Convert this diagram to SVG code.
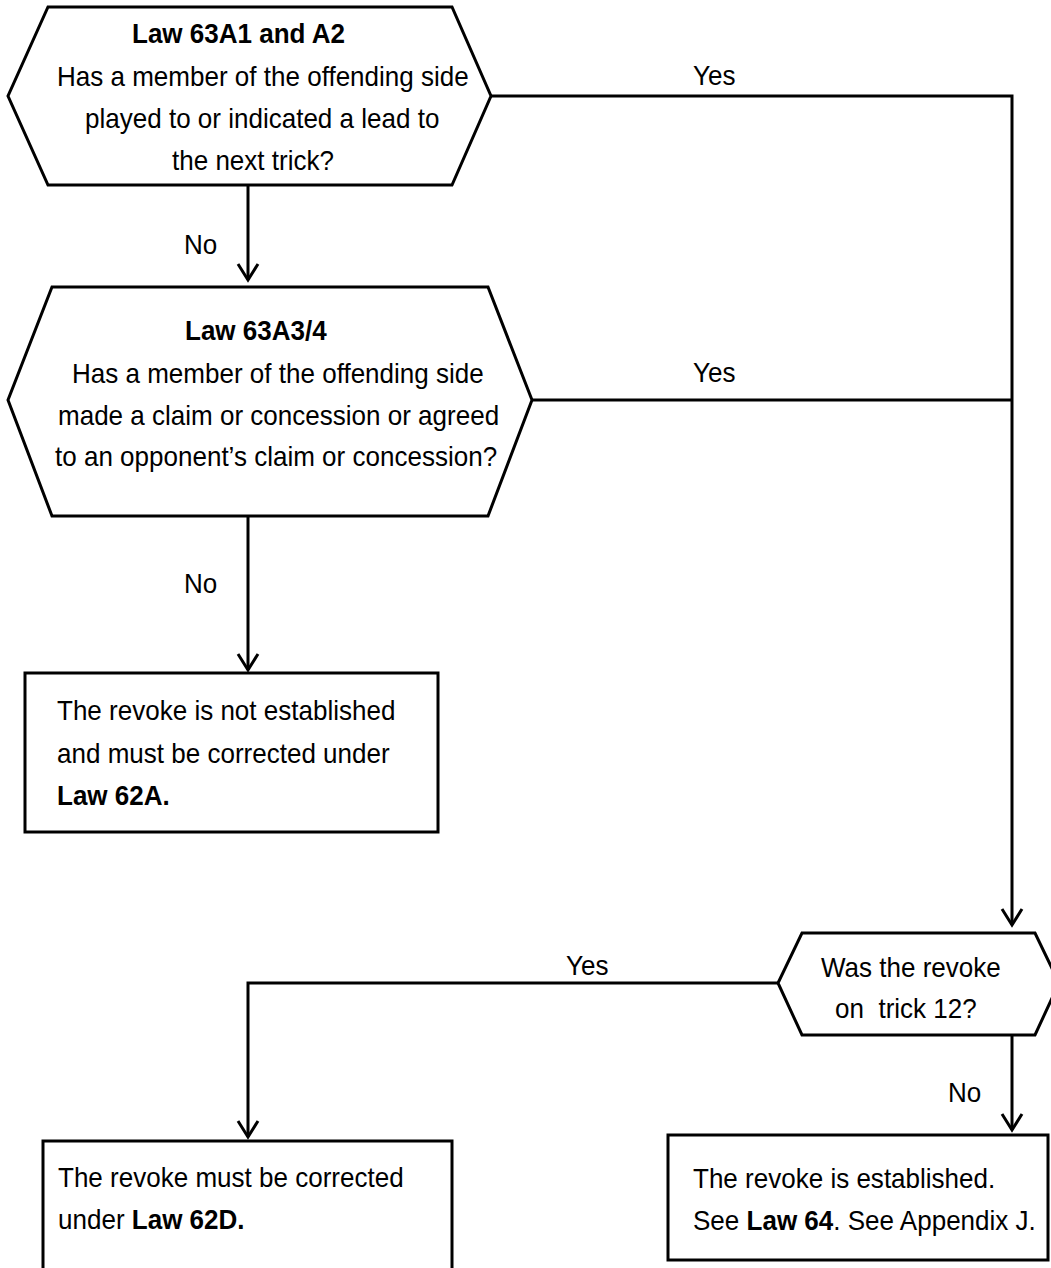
<svg xmlns="http://www.w3.org/2000/svg" width="1051" height="1268" viewBox="0 0 1051 1268">
<style>
.shape{fill:#fff;stroke:#000;stroke-width:3;stroke-linejoin:miter}
.conn{fill:none;stroke:#000;stroke-width:3}
text{font-family:"Liberation Sans",Arial,sans-serif;font-size:28px;fill:#000}
.b{font-weight:bold}
</style>
<defs>
<marker id="arr" markerUnits="userSpaceOnUse" viewBox="-20 -14 24 28" refX="0" refY="0" markerWidth="24" markerHeight="28" orient="auto" overflow="visible">
<path d="M-16,-10 L0,0 L-16,10" fill="none" stroke="#000" stroke-width="3" stroke-linejoin="miter"/>
</marker>
</defs>
<rect width="1051" height="1268" fill="#fff"/>
<g id="connectors">
<path class="conn" d="M248,185 V280" marker-end="url(#arr)"/>
<path class="conn" d="M491,96 H1012 V925" marker-end="url(#arr)"/>
<path class="conn" d="M532,400 H1012"/>
<path class="conn" d="M248,516 V670" marker-end="url(#arr)"/>
<path class="conn" d="M778,983 H248 V1137" marker-end="url(#arr)"/>
<path class="conn" d="M1012,1035 V1130" marker-end="url(#arr)"/>
<text transform="translate(184,254) scale(0.93,1)">No</text>
<text transform="translate(693,85) scale(0.93,1)">Yes</text>
<text transform="translate(693,382) scale(0.93,1)">Yes</text>
<text transform="translate(184,593) scale(0.93,1)">No</text>
<text transform="translate(566,975) scale(0.93,1)">Yes</text>
<text transform="translate(948,1102) scale(0.93,1)">No</text>
</g>
<g id="q1">
<polygon class="shape" points="48,7 452,7 491,96 452,185 48,185 8,96"/>
<text class="b" transform="translate(132,43) scale(0.93,1)">Law 63A1 and A2</text>
<text transform="translate(57,86) scale(0.93,1)">Has a member of the offending side</text>
<text transform="translate(85,128) scale(0.93,1)">played to or indicated a lead to</text>
<text transform="translate(172,170) scale(0.93,1)">the next trick?</text>
</g>
<g id="q2">
<polygon class="shape" points="52,287 488,287 532,400 488,516 52,516 8,400"/>
<text class="b" transform="translate(185,340) scale(0.93,1)">Law 63A3/4</text>
<text transform="translate(72,383) scale(0.93,1)">Has a member of the offending side</text>
<text transform="translate(58,425) scale(0.93,1)">made a claim or concession or agreed</text>
<text transform="translate(55,466) scale(0.93,1)">to an opponent’s claim or concession?</text>
</g>
<g id="r1">
<rect class="shape" x="25" y="673" width="413" height="159"/>
<text transform="translate(57,720) scale(0.93,1)">The revoke is not established</text>
<text transform="translate(57,763) scale(0.93,1)">and must be corrected under</text>
<text class="b" transform="translate(57,805) scale(0.93,1)">Law 62A.</text>
</g>
<g id="q3">
<polygon class="shape" points="802,933 1035,933 1059,983 1035,1035 802,1035 778,983"/>
<text transform="translate(821,977) scale(0.93,1)">Was the revoke</text>
<text transform="translate(835,1018) scale(0.93,1)" xml:space="preserve">on  trick 12?</text>
</g>
<g id="r2">
<rect class="shape" x="43" y="1141" width="409" height="140"/>
<text transform="translate(58,1187) scale(0.93,1)">The revoke must be corrected</text>
<text transform="translate(58,1229) scale(0.93,1)">under <tspan class="b">Law 62D.</tspan></text>
</g>
<g id="r3">
<rect class="shape" x="668" y="1135" width="380" height="125"/>
<text transform="translate(693,1188) scale(0.93,1)">The revoke is established.</text>
<text transform="translate(693,1230) scale(0.93,1)">See <tspan class="b">Law 64</tspan>. See Appendix J.</text>
</g>
</svg>
